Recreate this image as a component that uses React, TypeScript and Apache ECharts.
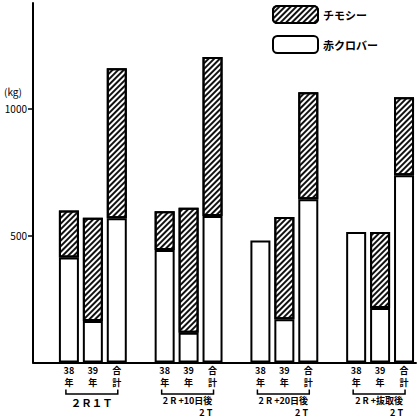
import React, { useEffect, useRef } from "react";
import * as echarts from "echarts";

const groupLine1 = ["２Ｒ１Ｔ", "2 R +10日後", "2 R +20日後", "2 R +抜取後"];
const groupLine2 = ["", "2 T", "2 T", "2 T"];
const barLabels = ["38年", "39年", "合計"];
// 赤クロバー (white, bottom) per group: 38年, 39年, 合計
const clover = [413, 163, 568, 443, 117, 577, 480, 170, 643, 514, 215, 737];
// チモシー (hatched, top)
const timothy = [185, 407, 590, 152, 492, 625, null, 403, 421, null, 299, 307];
const yTicks = [500, 1000];

const FONT = '"Noto Sans CJK JP", "Noto Sans", sans-serif';

// Build category slots: a blank slot before each group of three bars
const categories: string[] = [];
const cloverSlots: (number | null)[] = [];
const timothySlots: (number | null)[] = [];
const groupFirstIndex: number[] = [];
groupLine1.forEach((_, g) => {
  categories.push("");
  cloverSlots.push(null);
  timothySlots.push(null);
  groupFirstIndex.push(categories.length);
  barLabels.forEach((b, k) => {
    categories.push(b);
    cloverSlots.push(clover[g * 3 + k]);
    timothySlots.push(timothy[g * 3 + k]);
  });
});

const hatch = {
  symbol: "rect",
  symbolSize: 1,
  dashArrayX: [1, 0],
  dashArrayY: [1.6, 1.4],
  rotation: -Math.PI / 4,
  color: "#111",
  backgroundColor: "#fff",
};

export default function App() {
  const ref = useRef<HTMLDivElement>(null);
  useEffect(() => {
    document.body.style.margin = "0";
    const chart = echarts.init(ref.current!, null, { renderer: "svg" });
    const option: any = {
      animation: false,
      backgroundColor: "#fff",
      textStyle: { fontFamily: FONT, color: "#000" },
      grid: { left: 33, right: 4, top: 3, bottom: 56.5 },
      legend: {
        orient: "vertical",
        left: 267,
        top: 0,
        itemWidth: 45,
        itemHeight: 17,
        itemGap: 11,
        data: ["チモシー", "赤クロバー"],
        textStyle: { fontFamily: FONT, fontSize: 11, fontWeight: "bold", color: "#000" },
      },
      xAxis: {
        type: "category",
        data: categories,
        axisLine: { lineStyle: { color: "#000", width: 2 } },
        axisTick: { show: false },
        axisLabel: {
          interval: 0,
          margin: 2,
          fontSize: 9,
          lineHeight: 12,
          fontWeight: "bold",
          color: "#000",
          fontFamily: FONT,
          formatter: (v: string) => (v ? v.slice(0, v.length - 1) + "\n" + v.slice(-1) : ""),
        },
      },
      yAxis: {
        type: "value",
        min: 0,
        max: 1415,
        splitLine: { show: false },
        axisLine: { show: true, lineStyle: { color: "#000", width: 2 } },
        axisTick: { show: true, length: 5, customValues: yTicks, lineStyle: { color: "#000", width: 1.5 } },
        axisLabel: {
          customValues: yTicks,
          margin: 6,
          fontSize: 10,
          color: "#000",
          fontFamily: FONT,
          formatter: (v: number) => String(v),
        },
      },
      series: [
        {
          name: "赤クロバー",
          type: "bar",
          stack: "a",
          barWidth: 20,
          data: cloverSlots,
          itemStyle: { color: "#fff", borderColor: "#000", borderWidth: 2 },
        },
        {
          name: "チモシー",
          type: "bar",
          stack: "a",
          barWidth: 20,
          data: timothySlots,
          itemStyle: { color: "#fff", decal: hatch, borderColor: "#000", borderWidth: 2 },
        },
      ],
    };
    chart.setOption(option);

    const y0 = chart.convertToPixel({ yAxisIndex: 0 }, 0) as number;
    const y1000 = chart.convertToPixel({ yAxisIndex: 0 }, 1000) as number;
    const graphics: any[] = [
      {
        type: "text",
        x: 4,
        y: y1000 - 17,
        style: { text: "(kg)", fontSize: 10, fontFamily: FONT, fill: "#000", textVerticalAlign: "middle" },
      },
    ];
    groupFirstIndex.forEach((fi, g) => {
      const x1 = chart.convertToPixel({ xAxisIndex: 0 }, fi) as number;
      const x2 = chart.convertToPixel({ xAxisIndex: 0 }, fi + 2) as number;
      const xa = x1 - 3;
      const xb = x2 + 1;
      graphics.push({
        type: "polyline",
        shape: { points: [[xa, y0 + 27], [xa, y0 + 31.5], [xb, y0 + 31.5], [xb, y0 + 27]] },
        style: { stroke: "#000", lineWidth: 1.5, fill: null },
      });
      const two = !!groupLine2[g];
      graphics.push({
        type: "text",
        x: (xa + xb) / 2,
        y: two ? y0 + 44 : y0 + 40,
        style: {
          text: two ? `{a|${groupLine1[g]}}\n{b|${groupLine2[g]}}` : `{c|${groupLine1[g]}}`,
          fontFamily: FONT,
          fill: "#000",
          textAlign: "center",
          textVerticalAlign: "middle",
          rich: {
            a: { fontSize: 9, fontWeight: "bold", lineHeight: 12, fontFamily: FONT, fill: "#000" },
            b: { fontSize: 9, fontWeight: "bold", lineHeight: 12, fontFamily: FONT, fill: "#000", align: "right" },
            c: { fontSize: 10.5, fontWeight: "bold", lineHeight: 12, fontFamily: FONT, fill: "#000" },
          },
        },
      });
    });
    chart.setOption({ graphic: graphics });
    return () => chart.dispose();
  }, []);
  return <div ref={ref} style={{ position: "fixed", left: 0, top: 0, width: 420, height: 419 }} />;
}
